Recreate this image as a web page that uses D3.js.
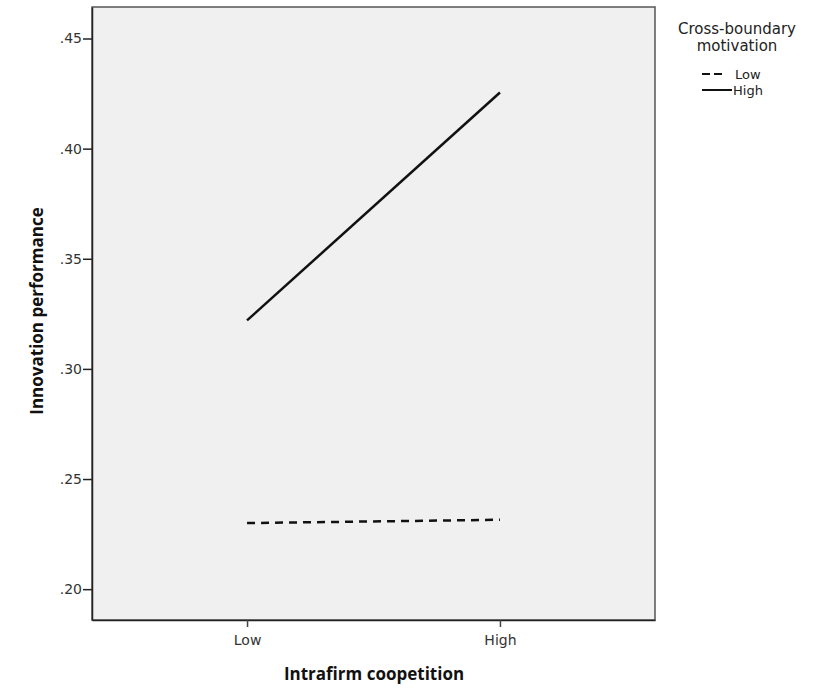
<!DOCTYPE html>
<html>
<head>
<meta charset="utf-8">
<script src="https://cdn.jsdelivr.net/npm/d3@7"></script>
<style>
  body { margin: 0; background: #fff; }
  svg text { font-family: "DejaVu Sans", sans-serif; }
</style>
</head>
<body>
<div id="chart"></div>
<script>
// data
var categories = ["Low", "High"];
var seriesNames = ["Low", "High"];
var lowValues = [0.230, 0.2315];
var highValues = [0.322, 0.4255];
var yTicks = [0.20, 0.25, 0.30, 0.35, 0.40, 0.45];

var w = 831;
var h = 692;

var plot = {left: 92, top: 7, right: 655, bottom: 620};

var svg = d3.select("#chart").append("svg")
    .attr("width", w)
    .attr("height", h);

var xScale = d3.scalePoint().domain(categories)
    .range([plot.left, plot.right]).padding(0.613);

var yScale = d3.scaleLinear().domain([0.186, 0.4643])
    .range([plot.bottom, plot.top]);

// plot background
svg.append("rect")
    .attr("x", plot.left)
    .attr("y", plot.top)
    .attr("width", plot.right - plot.left)
    .attr("height", plot.bottom - plot.top)
    .attr("fill", "#f0f0f0")
    .attr("stroke", "#555")
    .attr("stroke-width", 1.5);

//axes
var yAxis = d3.axisLeft(yScale).tickValues(yTicks).tickSize(9).tickSizeOuter(0)
    .tickFormat(function (d) { return d3.format(".2f")(d).replace(/^0/, ""); });
var gy = svg.append("g").attr("transform", "translate(" + plot.left + ",0)").call(yAxis)
    .attr("font-size", 14).attr("font-family", "DejaVu Sans, sans-serif");
gy.select(".domain").attr("stroke", "#222").attr("stroke-width", 1.5);
gy.selectAll(".tick line").attr("stroke", "#222").attr("stroke-width", 1.5);
gy.selectAll(".tick text").attr("fill", "#333").attr("x", -10);

var xAxis = d3.axisBottom(xScale).tickSize(7).tickSizeOuter(0);
var gx = svg.append("g").attr("transform", "translate(0," + plot.bottom + ")").call(xAxis)
    .attr("font-size", 14).attr("font-family", "DejaVu Sans, sans-serif");
gx.select(".domain").attr("stroke", "#222").attr("stroke-width", 1.5);
gx.selectAll(".tick line").attr("stroke", "#444").attr("stroke-width", 1.5);
gx.selectAll(".tick text").attr("fill", "#333").attr("y", 15);

// lines
var line = d3.line()
    .x(function (d, i) { return xScale(categories[i]); })
    .y(function (d) { return yScale(d); });

svg.append("path")
    .datum(lowValues)
    .attr("d", line)
    .attr("fill", "none")
    .attr("stroke", "#111")
    .attr("stroke-width", 2.5)
    .attr("stroke-dasharray", "8,6");

svg.append("path")
    .datum(highValues)
    .attr("d", line)
    .attr("fill", "none")
    .attr("stroke", "#111")
    .attr("stroke-width", 2.5);

// axis titles
svg.append("text")
    .attr("x", 374)
    .attr("y", 680)
    .attr("text-anchor", "middle")
    .attr("font-size", "17px")
    .attr("font-weight", "bold")
    .attr("fill", "#111")
    .style("font-family", "Open Sans, sans-serif")
    .text("Intrafirm coopetition");

svg.append("text")
    .attr("transform", "translate(43,311) rotate(-90)")
    .attr("text-anchor", "middle")
    .attr("font-size", "17px")
    .attr("font-weight", "bold")
    .attr("fill", "#111")
    .style("font-family", "Open Sans, sans-serif")
    .text("Innovation performance");

// legend
var legend = svg.append("g");
legend.append("text").attr("x", 737).attr("y", 34).attr("text-anchor", "middle")
    .style("font-size", "15px").attr("fill", "#222").text("Cross-boundary");
legend.append("text").attr("x", 737).attr("y", 51).attr("text-anchor", "middle")
    .style("font-size", "15px").attr("fill", "#222").text("motivation");

var legspacing = 16;
var leg = legend.selectAll(".leg").data(seriesNames).enter().append("g")
    .attr("transform", function (d, i) { return "translate(0," + (74 + i * legspacing) + ")"; });

leg.append("line")
    .attr("x1", 702).attr("x2", function (d, i) { return i == 0 ? 725 : 732; })
    .attr("y1", 0).attr("y2", 0)
    .attr("stroke", "#111").attr("stroke-width", 2)
    .attr("stroke-dasharray", function (d, i) { return i == 0 ? "8,4" : null; });

leg.append("text")
    .attr("x", function (d, i) { return i == 0 ? 735 : 733; })
    .attr("y", 5)
    .style("font-size", "13px").attr("fill", "#222")
    .text(function (d) { return d; });
</script>
</body>
</html>
